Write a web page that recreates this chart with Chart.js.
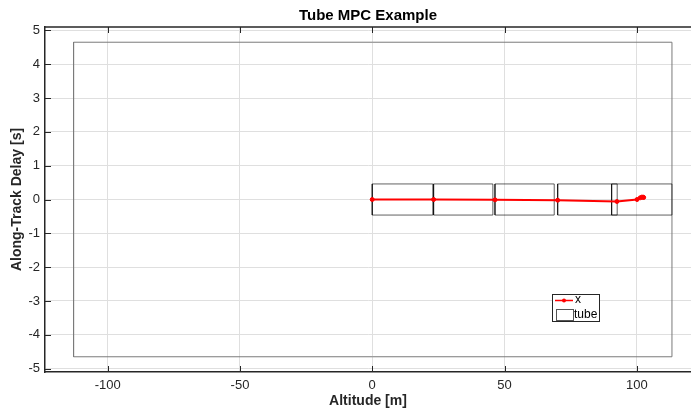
<!DOCTYPE html>
<html>
<head>
<meta charset="utf-8">
<script src="https://cdn.jsdelivr.net/npm/chart.js@4"></script>
<style>
  body { margin: 0; background: #fff; }
  #chart { display: block; }
</style>
</head>
<body>
<canvas id="chart" width="691" height="410"></canvas>
<script>
// data
const trajX = [0, 23.2, 46.4, 70.1, 92.5, 100.1, 101.3, 101.9, 102.4, 102.6];
const trajY = [0, 0, -0.01, -0.02, -0.06, 0.0, 0.05, 0.07, 0.07, 0.06];

const tubeLeft = [0, 23.2, 46.4, 70.1, 90.5];
const tubeRight = [22.9, 45.6, 68.8, 92.6, 113.3];
const tubeLow = [-0.46, -0.46, -0.46, -0.46, -0.46];
const tubeHigh = [0.46, 0.46, 0.46, 0.46, 0.46];

const boundX = [-112.9, 113.3];
const boundY = [-4.65, 4.65];

const xTicks = [-100, -50, 0, 50, 100];
const yTicks = [-5, -4, -3, -2, -1, 0, 1, 2, 3, 4, 5];
const xRange = [-123.7, 120.5];
const yRange = [-5.1, 5.1];

const FONT = "'Liberation Sans', Arial, Helvetica, sans-serif";
const INK = '#262626';

function box(x0, x1, y0, y1) {
  return [
    {x: x0, y: y0}, {x: x1, y: y0}, {x: x1, y: y1}, {x: x0, y: y1}, {x: x0, y: y0}
  ];
}

let datasets = [];
// trajectory on top
datasets.push({
  label: 'x',
  data: trajX.map((v, i) => ({x: v, y: trajY[i]})),
  showLine: true,
  borderColor: '#ff0000',
  backgroundColor: '#ff0000',
  borderWidth: 2,
  pointRadius: 2,
  pointBorderWidth: 1,
});
for (let i = 0; i < tubeLeft.length; i++) {
  datasets.push({
    label: 'tube',
    data: box(tubeLeft[i], tubeRight[i], tubeLow[i], tubeHigh[i]),
    showLine: true,
    borderColor: 'rgba(0,0,0,0.62)',
    borderWidth: 1,
    pointRadius: 0,
  });
}
datasets.push({
  label: 'bound',
  data: box(boundX[0], boundX[1], boundY[0], boundY[1]),
  showLine: true,
  borderColor: '#7a7a7a',
  borderWidth: 1,
  pointRadius: 0,
});

// title, axis labels, inward ticks, top box line and legend
const decor = {
  id: 'decor',
  afterDraw(chart) {
    const ctx = chart.ctx;
    const a = chart.chartArea;
    const sx = chart.scales.x, sy = chart.scales.y;
    ctx.save();
    ctx.strokeStyle = INK;
    ctx.lineWidth = 1;
    ctx.beginPath();
    xTicks.forEach(t => {
      const px = Math.round(sx.getPixelForValue(t)) + 0.5;
      ctx.moveTo(px, a.bottom); ctx.lineTo(px, a.bottom - 6);
      ctx.moveTo(px, a.top); ctx.lineTo(px, a.top + 6);
    });
    yTicks.forEach(t => {
      const py = Math.round(sy.getPixelForValue(t)) + 0.5;
      ctx.moveTo(a.left, py); ctx.lineTo(a.left + 6, py);
    });
    ctx.stroke();
    // top box line
    ctx.lineWidth = 1.5;
    ctx.beginPath();
    ctx.moveTo(a.left, a.top); ctx.lineTo(a.right, a.top);
    ctx.stroke();

    // title
    ctx.fillStyle = '#000';
    ctx.font = 'bold 15px ' + FONT;
    ctx.textAlign = 'center';
    ctx.textBaseline = 'middle';
    ctx.fillText('Tube MPC Example', (a.left + a.right) / 2, 16);

    // axis labels
    ctx.fillStyle = INK;
    ctx.font = 'bold 14px ' + FONT;
    ctx.fillText('Altitude [m]', (a.left + a.right) / 2, 401);
    ctx.translate(17, (a.top + a.bottom) / 2);
    ctx.rotate(-Math.PI / 2);
    ctx.fillText('Along-Track Delay [s]', 0, 0);
    ctx.restore();

    // legend
    ctx.save();
    ctx.fillStyle = '#fff';
    ctx.fillRect(552, 294, 47, 28);
    ctx.strokeStyle = INK;
    ctx.lineWidth = 1;
    ctx.strokeRect(552.5, 294.5, 47, 27);
    ctx.strokeStyle = '#ff0000';
    ctx.lineWidth = 1.5;
    ctx.beginPath();
    ctx.moveTo(555, 300.5); ctx.lineTo(573, 300.5);
    ctx.stroke();
    ctx.fillStyle = '#ff0000';
    ctx.beginPath();
    ctx.arc(564, 300.5, 2, 0, Math.PI * 2);
    ctx.fill();
    ctx.strokeStyle = '#555';
    ctx.lineWidth = 1;
    ctx.strokeRect(556.5, 309.5, 17, 11);
    ctx.fillStyle = '#000';
    ctx.font = '12px ' + FONT;
    ctx.textAlign = 'left';
    ctx.textBaseline = 'middle';
    ctx.fillText('x', 575, 300);
    ctx.fillText('tube', 574, 315);
    ctx.restore();
  }
};

new Chart(document.getElementById('chart'), {
  type: 'scatter',
  data: { datasets: datasets },
  plugins: [decor],
  options: {
    responsive: false,
    devicePixelRatio: 1,
    animation: false,
    layout: { autoPadding: false, padding: { top: 27, left: 0, right: 0, bottom: 0 } },
    plugins: {
      legend: { display: false },
      tooltip: { enabled: false },
      title: { display: false },
    },
    scales: {
      x: {
        type: 'linear',
        min: xRange[0],
        max: xRange[1],
        afterBuildTicks: s => { s.ticks = xTicks.map(v => ({value: v})); },
        afterFit: s => { s.height = 38; s.paddingLeft = 0; s.paddingRight = 0; },
        grid: { color: '#dfdfdf', drawTicks: false },
        border: { color: INK, width: 1.5 },
        ticks: { color: INK, font: { family: FONT, size: 13 }, padding: 6, maxRotation: 0 },
      },
      y: {
        type: 'linear',
        min: yRange[0],
        max: yRange[1],
        afterBuildTicks: s => { s.ticks = yTicks.map(v => ({value: v})); },
        afterFit: s => { s.width = 45; s.paddingTop = 0; s.paddingBottom = 0; },
        grid: { color: '#dfdfdf', drawTicks: false },
        border: { color: INK, width: 1.5 },
        ticks: { color: INK, font: { family: FONT, size: 13 }, padding: 5 },
      },
    },
  },
});
</script>
</body>
</html>
